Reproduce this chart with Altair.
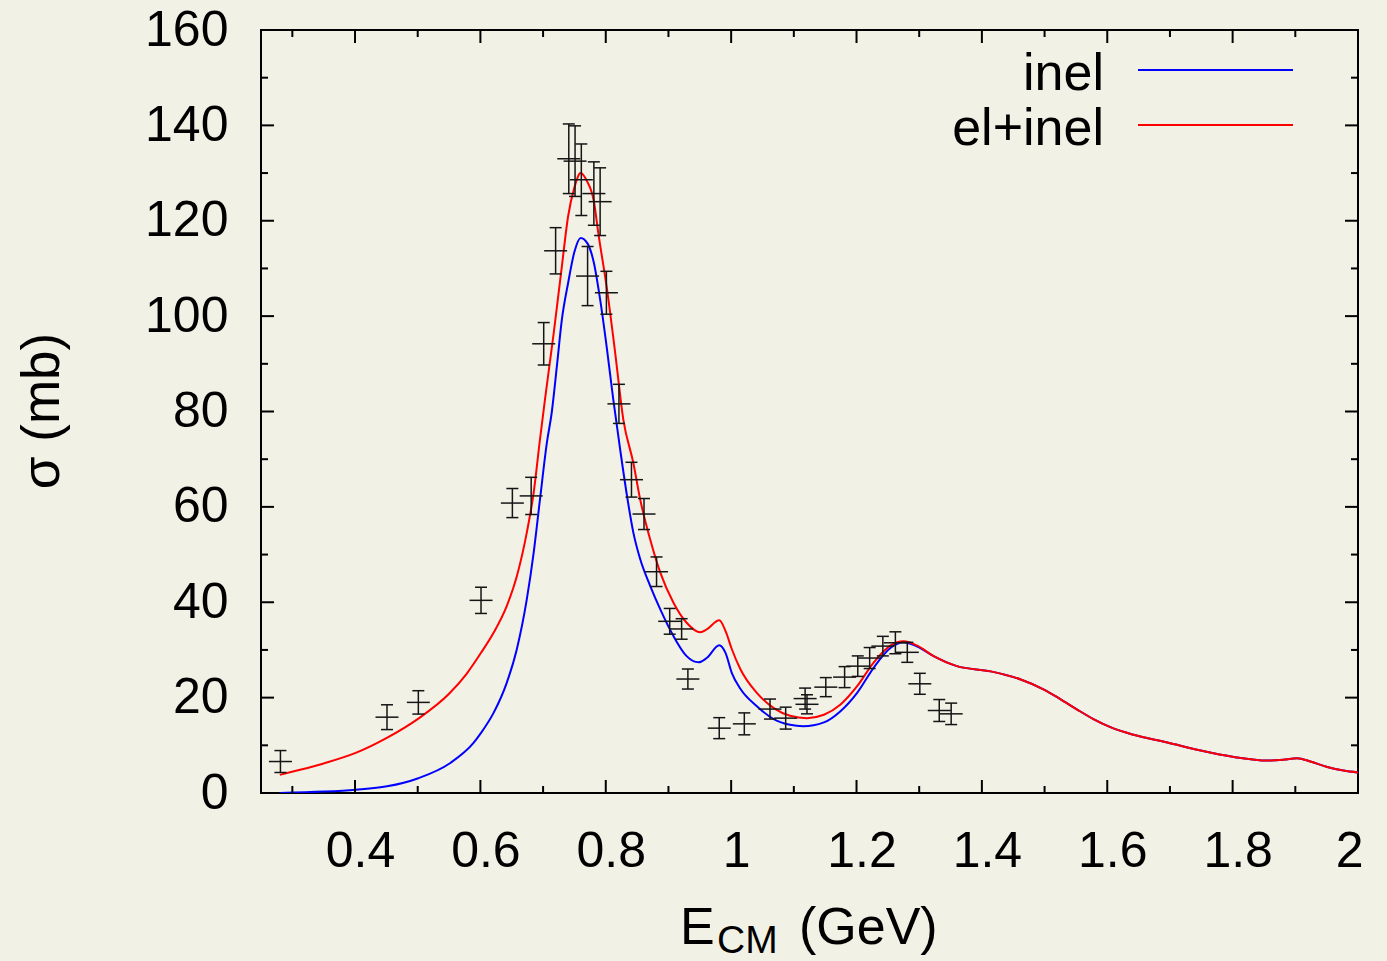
import altair as alt
import pandas as pd

# ---- curves ----
energy_inel = [0.28, 0.35, 0.401, 0.451, 0.501, 0.552, 0.589, 0.601, 0.621, 0.642, 0.658, 0.674,
               0.685, 0.695, 0.706, 0.714, 0.722, 0.730, 0.740, 0.750, 0.760, 0.771, 0.781, 0.791,
               0.802, 0.812, 0.823, 0.834, 0.844, 0.855, 0.871, 0.887, 0.908, 0.929, 0.948, 0.961,
               0.981, 0.991, 1.001, 1.015, 1.041, 1.068, 1.094, 1.115, 1.148, 1.174, 1.201, 1.227,
               1.254, 1.275, 1.297, 1.323, 1.360, 1.414, 1.462, 1.499, 1.525, 1.552, 1.578, 1.605,
               1.642, 1.696, 1.749, 1.802, 1.856, 1.882, 1.903, 1.924, 1.951, 1.977, 2.0]
sigma_inel = [0.0, 0.3, 0.7, 1.4, 3.1, 6.3, 10.5, 12.6, 16.8, 23.1, 30.1, 40.6,
              50.4, 61.5, 73.4, 80.0, 89.5, 99.3, 107.0, 113.5, 116.4, 115.2, 111.2, 103.5,
              93.0, 82.5, 72.0, 62.2, 54.6, 49.0, 43.4, 38.5, 32.9, 28.7, 27.4, 28.3,
              31.0, 29.4, 25.2, 21.8, 18.2, 15.5, 14.3, 14.0, 14.8, 17.1, 21.0, 26.2,
              30.4, 31.6, 30.7, 28.7, 26.6, 25.5, 23.8, 21.7, 19.7, 17.5, 15.5, 13.8,
              12.2, 10.6, 8.9, 7.55, 6.8, 7.0, 7.3, 6.6, 5.45, 4.7, 4.3]

energy_tot = [0.28, 0.301, 0.35, 0.401, 0.45, 0.501, 0.55, 0.578, 0.601, 0.621, 0.642, 0.658,
              0.674, 0.685, 0.695, 0.703, 0.717, 0.730, 0.740, 0.750, 0.760, 0.770, 0.781, 0.788,
              0.802, 0.815, 0.828, 0.844, 0.855, 0.871, 0.887, 0.908, 0.929, 0.951, 0.961, 0.981,
              0.991, 1.001, 1.015, 1.041, 1.068, 1.094, 1.121, 1.148, 1.174, 1.201, 1.227, 1.254,
              1.275, 1.297, 1.323, 1.360, 1.414, 1.462, 1.499, 1.525, 1.552, 1.578, 1.605, 1.642,
              1.696, 1.749, 1.802, 1.856, 1.882, 1.903, 1.924, 1.951, 1.977, 2.0]
sigma_tot = [3.8, 4.5, 6.2, 8.4, 11.5, 15.6, 20.8, 25.0, 29.4, 33.6, 39.2, 45.4,
             54.6, 63.0, 74.1, 82.5, 96.5, 110.5, 121.0, 127.0, 130.0, 128.3, 124.1, 117.5,
             105.6, 92.3, 78.3, 69.2, 61.5, 53.1, 46.2, 39.9, 35.7, 33.7, 34.3, 36.2,
             34.0, 30.2, 25.9, 21.0, 17.8, 16.2, 15.7, 16.4, 18.5, 22.4, 27.3, 30.9,
             31.8, 30.9, 28.7, 26.6, 25.5, 23.8, 21.7, 19.7, 17.5, 15.5, 13.8, 12.2,
             10.6, 8.9, 7.55, 6.8, 7.0, 7.3, 6.6, 5.45, 4.7, 4.3]

# ---- measured points ----
data_x = [0.281, 0.451, 0.501, 0.601, 0.651, 0.681, 0.701, 0.720, 0.741, 0.751, 0.761, 0.771,
          0.781, 0.791, 0.801, 0.821, 0.841, 0.861, 0.881, 0.902, 0.921, 0.931, 0.981, 1.021,
          1.062, 1.087, 1.118, 1.121, 1.151, 1.181, 1.202, 1.221, 1.242, 1.262, 1.281, 1.301,
          1.332, 1.351]
data_y = [6.6, 15.9, 19.0, 40.4, 60.8, 62.3, 94.2, 113.7, 133.0, 132.5, 128.6, 108.4,
          125.7, 124.0, 104.9, 81.6, 65.7, 58.5, 46.4, 36.0, 34.4, 23.9, 13.6, 14.5,
          17.6, 15.7, 19.8, 18.6, 22.2, 24.3, 26.6, 28.3, 30.8, 31.5, 29.5, 22.9,
          17.3, 16.6]
data_err = [2.3, 2.6, 2.45, 2.75, 3.05, 3.9, 4.45, 4.85, 7.3, 7.4, 7.5, 6.2,
            6.65, 7.1, 4.5, 4.1, 3.65, 3.25, 3.1, 2.7, 2.15, 2.1, 2.2, 2.3,
            2.1, 2.3, 2.2, 2.0, 2.0, 2.2, 2.15, 2.2, 2.05, 2.3, 2.1, 2.2,
            2.3, 2.25]

# ---- ticks ----
x_major = [0.4, 0.6, 0.8, 1.0, 1.2, 1.4, 1.6, 1.8, 2.0]
x_minor = [0.3, 0.5, 0.7, 0.9, 1.1, 1.3, 1.5, 1.7, 1.9]
y_major = [0, 20, 40, 60, 80, 100, 120, 140, 160]
y_minor = [10, 30, 50, 70, 90, 110, 130, 150]

series_names = ["inel", "el+inel"]
series_colors = ["#0000ff", "#ff0000"]

W, H = 1097, 763
FONT = "Liberation Sans"
BG = "#f2f1e6"
INK = "#000000"

xs = alt.Scale(domain=[0.25, 2.0], nice=False, zero=False)
ys = alt.Scale(domain=[0, 160], nice=False, zero=False)
x_axis = alt.Axis(values=x_major, format="~g", title=None, ticks=False, tickSize=0, domain=False,
                  grid=False, labelFont=FONT, labelFontSize=50, labelColor=INK,
                  labelPadding=33, labelOffset=5)
y_axis = alt.Axis(values=y_major, format="d", title=None, ticks=False, tickSize=0, domain=False,
                  grid=False, labelFont=FONT, labelFontSize=50, labelColor=INK,
                  labelPadding=33)

def X(f="E"):
    return alt.X(f"{f}:Q", scale=xs, axis=x_axis)

def Y(f="s"):
    return alt.Y(f"{f}:Q", scale=ys, axis=y_axis)

df_inel = pd.DataFrame({"E": energy_inel, "s": sigma_inel})
df_tot = pd.DataFrame({"E": energy_tot, "s": sigma_tot})
df_pts = pd.DataFrame({"E": data_x, "s": data_y, "err": data_err})
df_pts["lo"] = df_pts["s"] - df_pts["err"]
df_pts["hi"] = df_pts["s"] + df_pts["err"]

blue = alt.Chart(df_inel).mark_line(color=series_colors[0], strokeWidth=2, clip=True,
                                    interpolate="monotone").encode(x=X(), y=Y())
red = alt.Chart(df_tot).mark_line(color=series_colors[1], strokeWidth=2, clip=True,
                                  interpolate="monotone").encode(x=X(), y=Y())

HLINE = "M-1,0L1,0"
EB = "#151515"
ebar = alt.Chart(df_pts).mark_rule(color=EB, strokeWidth=1.5).encode(
    x=X(), y=Y("lo"), y2="hi:Q")
caps_lo = alt.Chart(df_pts).mark_point(shape=HLINE, size=144, filled=False, color=EB,
                                       strokeWidth=1.5, opacity=1).encode(x=X(), y=Y("lo"))
caps_hi = alt.Chart(df_pts).mark_point(shape=HLINE, size=144, filled=False, color=EB,
                                       strokeWidth=1.5, opacity=1).encode(x=X(), y=Y("hi"))
centers = alt.Chart(df_pts).mark_point(shape=HLINE, size=529, filled=False, color=EB,
                                       strokeWidth=1.5, opacity=1).encode(x=X(), y=Y())

# tick marks (inward, mirrored)
def xticks(vals, length):
    d = pd.DataFrame({"E": vals})
    b = alt.Chart(d).mark_rule(color=INK, strokeWidth=2).encode(
        x=X(), y=alt.value(H - length), y2=alt.value(H))
    t = alt.Chart(d).mark_rule(color=INK, strokeWidth=2).encode(
        x=X(), y=alt.value(0), y2=alt.value(length))
    return [b, t]

def yticks(vals, length):
    d = pd.DataFrame({"s": vals})
    l = alt.Chart(d).mark_rule(color=INK, strokeWidth=2).encode(
        y=Y(), x=alt.value(0), x2=alt.value(length))
    r = alt.Chart(d).mark_rule(color=INK, strokeWidth=2).encode(
        y=Y(), x=alt.value(W - length), x2=alt.value(W))
    return [l, r]

ticks = xticks(x_major, 13) + xticks(x_minor, 7) + yticks(y_major, 13) + yticks(y_minor, 7)

one = pd.DataFrame({"k": [0]})

def label(txt, x, y, size, align="left", angle=0, baseline="alphabetic"):
    return alt.Chart(one).mark_text(text=txt, font=FONT, fontSize=size, color=INK, align=align,
                                    baseline=baseline, angle=angle).encode(
        x=alt.value(x), y=alt.value(y))

# legend (label then line, as in the original)
leg_blue_txt = label(series_names[0], 843, 60, 52, align="right")
leg_red_txt = label(series_names[1], 843, 115, 52, align="right")
leg_blue_line = alt.Chart(one).mark_rule(color=series_colors[0], strokeWidth=2).encode(
    x=alt.value(877), x2=alt.value(1032), y=alt.value(40))
leg_red_line = alt.Chart(one).mark_rule(color=series_colors[1], strokeWidth=2).encode(
    x=alt.value(877), x2=alt.value(1032), y=alt.value(95))

# axis titles
xt_E = label("E", 419, 914, 52)
xt_CM = label("CM", 456, 923, 39)
xt_unit = label("(GeV)", 538, 914, 52)
yt = label("σ (mb)", -218, 381, 53, align="center", angle=270, baseline="middle")

chart = alt.layer(
    blue, red, ebar, caps_lo, caps_hi, centers, *ticks,
    leg_blue_txt, leg_red_txt, leg_blue_line, leg_red_line,
    xt_E, xt_CM, xt_unit, yt,
).properties(
    width=W, height=H,
    padding={"left": 261, "top": 30, "right": 29, "bottom": 168},
    autosize=alt.AutoSizeParams(type="none"),
    background=BG,
).configure_view(stroke=INK, strokeWidth=2)

chart.save("out.html", embed_options={"renderer": "svg", "actions": False})
